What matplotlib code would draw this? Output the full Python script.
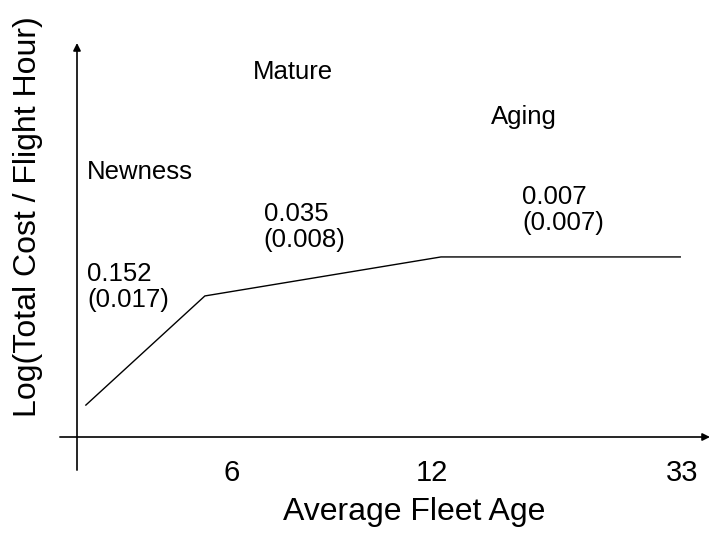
import matplotlib.pyplot as plt

plt.rcParams['font.family'] = ['Liberation Sans', 'DejaVu Sans']

# schematic piecewise cost curve (axis units 0..10)
age_pos = [0.14, 2.02, 5.75, 9.53]
log_cost = [0.81, 3.58, 4.57, 4.57]

tick_pos = [2.45, 5.61, 9.56]
tick_labels = ['6', '12', '33']

phases = ['Newness', 'Mature', 'Aging']
slopes = ['0.152', '0.035', '0.007']
std_errs = ['(0.017)', '(0.008)', '(0.007)']

fig = plt.figure(figsize=(7.11, 5.33), dpi=100)
ax = fig.add_axes([77 / 711, 96 / 533, 633 / 711, 394 / 533])
ax.set_xlim(0, 10)
ax.set_ylim(0, 10)

ax.plot(age_pos, log_cost, color='black', lw=1.0)

# axes drawn as arrows crossing at the origin
arrow = dict(arrowstyle='-|>', color='black', lw=1.2, mutation_scale=11, shrinkA=0, shrinkB=0)
ax.annotate('', xy=(10.0, 0), xytext=(-0.27, 0), arrowprops=arrow, annotation_clip=False)
ax.annotate('', xy=(0, 10.0), xytext=(0, -0.84), arrowprops=arrow, annotation_clip=False)

for s in ax.spines.values():
    s.set_visible(False)
ax.set_yticks([])
ax.set_xticks(tick_pos)
ax.set_xticklabels(tick_labels, fontsize=21)
ax.tick_params(axis='x', length=0, pad=16)

ax.set_xlabel('Average Fleet Age', fontsize=23)
ax.xaxis.set_label_coords(0.532, -0.152)
ax.set_ylabel('Log(Total Cost / Flight Hour)', fontsize=23)
ax.yaxis.set_label_coords(-0.054, 0.56)

phase_xy = [(0.16, 6.73), (2.78, 9.26), (6.54, 8.12)]
coef_xy = [(0.16, 3.81), (2.95, 5.33), (7.03, 5.76)]
for name, (px, py) in zip(phases, phase_xy):
    ax.text(px, py, name, fontsize=18.5, ha='left', va='center')
for sl, se, (cx, cy) in zip(slopes, std_errs, coef_xy):
    ax.text(cx, cy, sl + '\n' + se, fontsize=18.5, ha='left', va='center', linespacing=1.1)

fig.savefig('out.png', dpi=100)
